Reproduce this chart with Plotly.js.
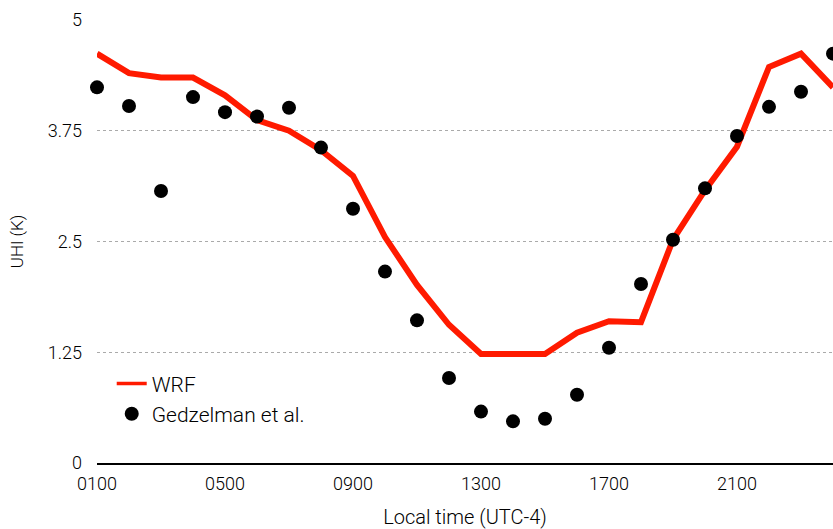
<!DOCTYPE html>
<html>
<head>
<meta charset="utf-8">
<script src="https://cdn.plot.ly/plotly-3.0.1.min.js"></script>
<style>html,body{margin:0;padding:0;background:#fff;}#chart{width:833px;height:529px;}</style>
</head>
<body>
<div id="chart"></div>
<script>
const hours = [1,2,3,4,5,6,7,8,9,10,11,12,13,14,15,16,17,18,19,20,21,22,23,24];
const wrf = [4.62,4.40,4.35,4.35,4.15,3.87,3.75,3.53,3.24,2.55,2.01,1.56,1.23,1.23,1.23,1.47,1.60,1.59,2.52,3.08,3.57,4.47,4.62,4.24];
const gedzelman = [4.24,4.03,3.07,4.13,3.96,3.91,4.01,3.56,2.87,2.16,1.61,0.96,0.58,0.47,0.50,0.77,1.30,2.02,2.52,3.10,3.69,4.02,4.19,4.62];
const xTickVals = [1,5,9,13,17,21];
const xTickText = ['0100','0500','0900','1300','1700','2100'];
const yTickVals = [0,1.25,2.5,3.75,5];
const yTickText = ['0','1.25','2.5','3.75','5'];

const fontFam = 'Roboto, "Open Sans", "Liberation Sans", sans-serif';
const traces = [
  {x: hours, y: wrf, type: 'scatter', mode: 'lines', name: 'WRF', showlegend: false,
   line: {color: '#ff1a00', width: 6}},
  {x: [null], y: [null], type: 'scatter', mode: 'lines', name: 'WRF',
   line: {color: '#ff1a00', width: 3.5}},
  {x: hours, y: gedzelman, type: 'scatter', mode: 'markers', name: 'Gedzelman et al.',
   marker: {color: '#000000', size: 14}, cliponaxis: false}
];
const layout = {
  width: 833, height: 529,
  margin: {l: 97, r: 0, t: 20, b: 66},
  paper_bgcolor: '#ffffff', plot_bgcolor: '#ffffff',
  font: {family: fontFam, size: 18, color: '#000', weight: 300},
  showlegend: true,
  legend: {x: 0.02, y: 0.225, xanchor: 'left', yanchor: 'top', bgcolor: 'rgba(0,0,0,0)',
           font: {family: fontFam, size: 21, color: '#000', weight: 300}, itemwidth: 30, tracegroupgap: 0},
  xaxis: {range: [1, 24], tickvals: xTickVals, ticktext: xTickText, showgrid: false,
          zeroline: false, showline: true, linecolor: '#000', linewidth: 1.5,
          ticks: '', ticklen: 0, ticklabelstandoff: 4, tickfont: {size: 18, weight: 300},
          title: {text: 'Local time (UTC-4)', font: {size: 20, weight: 300}, standoff: 21}},
  yaxis: {range: [0, 5], tickvals: yTickVals, ticktext: yTickText, showgrid: true,
          gridcolor: '#aaaaaa', griddash: 'dot', gridwidth: 1, zeroline: false, showline: false,
          ticks: '', ticklabelstandoff: 14, tickfont: {size: 18, weight: 300},
          title: {text: 'UHI (K)', font: {size: 17, weight: 300}, standoff: 19}}
};
Plotly.newPlot('chart', traces, layout, {displayModeBar: false, staticPlot: true});
</script>
</body>
</html>
